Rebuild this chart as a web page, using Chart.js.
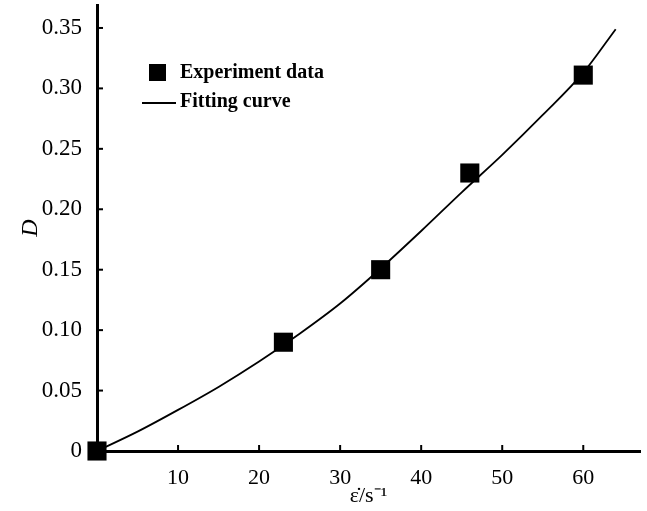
<!DOCTYPE html>
<html lang="en">
<head>
    <meta charset="UTF-8">
    <title>D vs strain rate</title>
    <style>
        body { margin: 0; background: #fff; }
        #wrap { width: 647px; height: 511px; }
    </style>
</head>
<body>
    <div id="wrap"><canvas id="myChart" width="647" height="511"></canvas></div>
    <script src="https://cdn.jsdelivr.net/npm/chart.js"></script>
    <script>
        // measured points
        const expX = [0, 23, 35, 46, 60]
        const expD = [0, 0.09, 0.15, 0.23, 0.311]
        // fitting curve
        const fitX = [0, 5, 10, 15, 20, 25, 30, 35, 40, 45, 50, 55, 60, 64]
        const fitD = [0, 0.016, 0.034, 0.053, 0.074, 0.097, 0.122, 0.151, 0.182, 0.214, 0.245, 0.278, 0.313, 0.349]
        const xTicks = [10, 20, 30, 40, 50, 60]
        const yTicks = [0, 0.05, 0.10, 0.15, 0.20, 0.25, 0.30, 0.35]
        const yTickLabels = ['0', '0.05', '0.10', '0.15', '0.20', '0.25', '0.30', '0.35']
        const legendLabels = ['Experiment data', 'Fitting curve']

        const serif = 'Liberation Serif'

        // short tick marks pointing into the plot, plus the legend in the upper left
        const extras = {
            id: 'extras',
            afterDraw(chart) {
                const c = chart.ctx
                const x = chart.scales.x, y = chart.scales.y
                c.save()
                c.strokeStyle = '#000'
                c.lineWidth = 2
                xTicks.forEach(v => {
                    const px = x.getPixelForValue(v)
                    c.beginPath(); c.moveTo(px, y.bottom); c.lineTo(px, y.bottom - 6); c.stroke()
                })
                yTicks.slice(1).forEach(v => {
                    const py = y.getPixelForValue(v)
                    c.beginPath(); c.moveTo(x.left, py); c.lineTo(x.left + 6, py); c.stroke()
                })
                // legend
                c.fillStyle = '#000'
                c.fillRect(149, 64, 17, 17)
                c.lineWidth = 2
                c.beginPath(); c.moveTo(142, 103); c.lineTo(176, 103); c.stroke()
                c.font = 'bold 20px "' + serif + '"'
                c.textBaseline = 'middle'
                c.fillText(legendLabels[0], 180, 73)
                c.fillText(legendLabels[1], 180, 102)
                c.restore()
            }
        }

        const ctx = document.getElementById('myChart')
        const myChart = new Chart(ctx, {
            type: 'scatter',
            data: {
                datasets: [{
                    label: legendLabels[0],
                    data: expX.map((v, i) => ({ x: v, y: expD[i] })),
                    pointStyle: 'rect',
                    pointRadius: 13.5,
                    backgroundColor: '#000',
                    borderColor: '#000',
                    borderWidth: 0
                }, {
                    label: legendLabels[1],
                    type: 'line',
                    data: fitX.map((v, i) => ({ x: v, y: fitD[i] })),
                    borderColor: '#000',
                    borderWidth: 1.8,
                    pointRadius: 0,
                    cubicInterpolationMode: 'monotone',
                    fill: false
                }]
            },
            options: {
                responsive: false,
                animation: false,
                clip: false,
                layout: { autoPadding: false, padding: { top: 5, right: 7, left: 0, bottom: 0 } },
                plugins: {
                    legend: { display: false },
                    tooltip: { enabled: false }
                },
                scales: {
                    x: {
                        type: 'linear',
                        min: 0,
                        max: 67,
                        afterBuildTicks: s => { s.ticks = xTicks.map(v => ({ value: v })) },
                        afterFit: s => { s.height = 60; s.paddingLeft = 0; s.paddingRight = 0 },
                        grid: { display: false },
                        border: { display: true, color: '#000', width: 3 },
                        ticks: { color: '#000', padding: 6, font: { family: serif, size: 22 } },
                        title: {
                            display: true,
                            text: 'ε̇/s⁻¹',
                            color: '#000',
                            font: { family: serif, size: 22 },
                            padding: { top: 0, bottom: 2 }
                        }
                    },
                    y: {
                        min: 0,
                        max: 0.369,
                        afterBuildTicks: s => { s.ticks = yTicks.map(v => ({ value: v })) },
                        afterFit: s => { s.width = 97; s.paddingTop = 0; s.paddingBottom = 0 },
                        grid: { display: false },
                        border: { display: true, color: '#000', width: 3 },
                        ticks: {
                            color: '#000',
                            padding: 7,
                            font: { family: serif, size: 23 },
                            callback: (v, i) => yTickLabels[i]
                        },
                        title: {
                            display: true,
                            text: 'D',
                            color: '#000',
                            font: { family: serif, size: 24, style: 'italic' },
                            padding: { top: 16, bottom: 0 }
                        }
                    }
                }
            },
            plugins: [extras]
        })
    </script>
</body>
</html>
